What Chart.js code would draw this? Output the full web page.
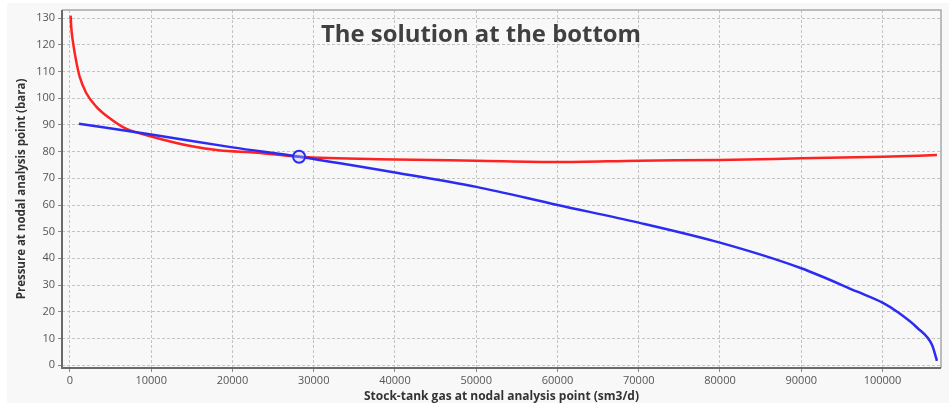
<!DOCTYPE html>
<html>
<head>
<meta charset="utf-8">
<script src="https://cdn.jsdelivr.net/npm/chart.js@4/dist/chart.umd.min.js"></script>
<style>
  html, body { margin: 0; padding: 0; background: #ffffff; }
  #wrap { position: relative; width: 949px; height: 405px; }
  #heading {
    position: absolute; left: 321px; top: 18px;
    font-family: "Open Sans", "Noto Sans", sans-serif; font-weight: 700;
    color: #404040; white-space: nowrap; font-size: 21px; line-height: 30px;
  }
</style>
</head>
<body>
<div id="wrap">
  <canvas id="c" width="949" height="405"></canvas>
  <div id="heading">The solution at the bottom</div>
</div>
<script>
// Inflow curve (red): gas rate vs pressure at the nodal point
const inflowRate = [85, 150, 400, 730, 1200, 2000, 3200, 4900, 6900, 10000, 15000, 18300, 23000, 28200, 40000, 50000, 60000, 70000, 80000, 90000, 100000, 106700];
const inflowPressure = [131, 127, 120.5, 114.5, 108, 102, 97, 92.5, 88.6, 85.7, 82, 80.5, 79.6, 78.1, 77.1, 76.6, 76.1, 76.6, 76.9, 77.5, 78.1, 78.7];

// Outflow curve (blue)
const outflowRate = [1100, 10000, 20000, 28200, 40000, 50000, 60000, 70000, 80000, 90000, 96900, 100000, 101800, 104300, 106100, 106700];
const outflowPressure = [90.5, 86.4, 81.6, 78.1, 72.2, 66.8, 60, 53.4, 45.9, 36.3, 27.5, 23.4, 20, 13.9, 7.5, 1.6];

// Operating point where the two curves meet
const solutionRate = [28200];
const solutionPressure = [78.1];

// Axis ticks
const xTicks = [0, 10000, 20000, 30000, 40000, 50000, 60000, 70000, 80000, 90000, 100000];
const yTicks = [0, 10, 20, 30, 40, 50, 60, 70, 80, 90, 100, 110, 120, 130];

const toPoints = (xs, ys) => xs.map((x, i) => ({ x: x, y: ys[i] }));

// fit the heading to its box width
(function () {
  const h = document.getElementById('heading');
  let size = 21;
  h.style.fontSize = size + 'px';
  const w = h.getBoundingClientRect().width;
  size = size * 320 / w;
  h.style.fontSize = size.toFixed(2) + 'px';
})();

const panelAndFrame = {
  id: 'panelAndFrame',
  beforeDraw(chart) {
    const ctx = chart.ctx;
    ctx.save();
    ctx.fillStyle = '#f8f8f8';
    ctx.fillRect(7, 3, 942, 400);
    ctx.restore();
  },
  afterDatasetsDraw(chart) {
    const { ctx, chartArea: a } = chart;
    ctx.save();
    ctx.strokeStyle = '#a8a8a8';
    ctx.lineWidth = 1.5;
    ctx.beginPath();
    ctx.moveTo(a.left, a.top);
    ctx.lineTo(a.right, a.top);
    ctx.lineTo(a.right, a.bottom);
    ctx.stroke();
    ctx.strokeStyle = '#6a6a6a';
    ctx.lineWidth = 2;
    ctx.beginPath();
    ctx.moveTo(a.left, a.top);
    ctx.lineTo(a.left, a.bottom);
    ctx.lineTo(a.right, a.bottom);
    ctx.stroke();
    ctx.restore();
  }
};

const tickFont = { family: '"Open Sans", "Noto Sans", sans-serif', size: 11 };
const xTitleFont = { family: '"Open Sans", "Noto Sans", sans-serif', size: 12, weight: 'bold' };
const yTitleFont = { family: '"Open Sans", "Noto Sans", sans-serif', size: 11.5, weight: 'bold' };

const gridStyle = {
  color: '#c4c4c4',
  lineWidth: 1,
  drawTicks: true,
  tickLength: 4,
  tickColor: '#8a8a8a',
  tickBorderDash: []
};

new Chart(document.getElementById('c'), {
  type: 'line',
  data: {
    datasets: [
      {
        label: 'Solution',
        data: toPoints(solutionRate, solutionPressure),
        showLine: false,
        pointRadius: 6,
        pointBorderWidth: 2,
        pointBorderColor: '#2a2af0',
        pointBackgroundColor: 'rgba(190,190,255,0.35)',
        order: 0
      },
      {
        label: 'Inflow',
        data: toPoints(inflowRate, inflowPressure),
        borderColor: '#ff2222',
        borderWidth: 2.5,
        pointRadius: 0,
        cubicInterpolationMode: 'monotone',
        fill: false,
        order: 2
      },
      {
        label: 'Outflow',
        data: toPoints(outflowRate, outflowPressure),
        borderColor: '#2b2bf2',
        borderWidth: 2.5,
        pointRadius: 0,
        cubicInterpolationMode: 'monotone',
        fill: false,
        order: 1
      }
    ]
  },
  options: {
    responsive: false,
    animation: false,
    devicePixelRatio: 1,
    layout: { padding: { top: 10, right: 3, left: 0, bottom: 0 } },
    plugins: { legend: { display: false }, tooltip: { enabled: false } },
    scales: {
      x: {
        type: 'linear',
        min: -980,
        max: 107200,
        afterBuildTicks: s => { s.ticks = xTicks.map(v => ({ value: v })); },
        afterFit: s => { s.height = 37; },
        grid: gridStyle,
        border: { display: false, dash: [3, 2] },
        ticks: {
          font: tickFont,
          color: '#555555',
          padding: 2,
          maxRotation: 0,
          autoSkip: false,
          callback: v => String(v)
        },
        title: {
          display: true,
          text: 'Stock-tank gas at nodal analysis point (sm3/d)',
          font: xTitleFont,
          color: '#333333',
          padding: { top: 0, bottom: 1 }
        }
      },
      y: {
        type: 'linear',
        min: -1.1,
        max: 133.1,
        afterBuildTicks: s => { s.ticks = yTicks.map(v => ({ value: v })); },
        afterFit: s => { s.width = 62; },
        grid: gridStyle,
        border: { display: false, dash: [3, 2] },
        ticks: {
          font: tickFont,
          color: '#555555',
          padding: 3,
          autoSkip: false,
          callback: v => String(v)
        },
        title: {
          display: true,
          text: 'Pressure at nodal analysis point (bara)',
          font: yTitleFont,
          color: '#333333',
          padding: { top: 15, bottom: 0 }
        }
      }
    }
  },
  plugins: [panelAndFrame]
});
</script>
</body>
</html>
